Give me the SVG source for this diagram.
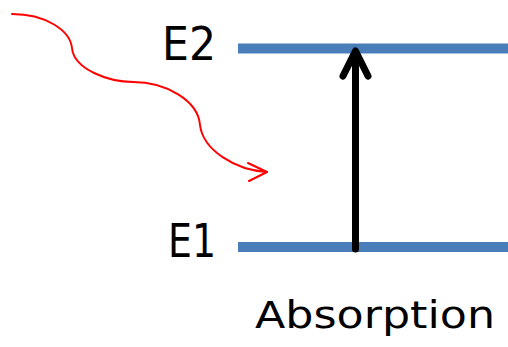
<svg xmlns="http://www.w3.org/2000/svg" width="508" height="347" viewBox="0 0 508 347">
<style>
.lbl{font-family:"DejaVu Sans","Liberation Sans",sans-serif;fill:#000}
.level{stroke:#4A7EBB;stroke-width:10;fill:none}
</style>
<rect width="508" height="347" fill="#fff"/>
<g id="E2">
<line class="level" x1="238" y1="48.5" x2="508" y2="48.5"/>
<text class="lbl" x="162" y="60" font-size="47" textLength="54" lengthAdjust="spacingAndGlyphs">E2</text>
</g>
<g id="E1">
<line class="level" x1="238" y1="247" x2="508" y2="247"/>
<text class="lbl" x="168" y="257" font-size="47" textLength="48" lengthAdjust="spacingAndGlyphs">E1</text>
</g>
<g id="label">
<text class="lbl" x="255" y="328" font-size="37" textLength="240" lengthAdjust="spacingAndGlyphs">Absorption</text>
</g>
<g id="connectors">
<g id="photon" fill="none" stroke="#FF0000" stroke-width="2" stroke-linecap="round" stroke-linejoin="round">
<path d="M12,14 C45,14 70,30 72,48 C74,70 110,82 133,82 C165,82 198,100 200,125 C203,150 235,170 267,172"/>
<polyline points="248,163 267,172 249,181"/>
</g>
<g id="transition" fill="none" stroke="#000" stroke-width="7" stroke-linecap="round" stroke-linejoin="round">
<line x1="355.5" y1="249" x2="355.5" y2="53"/>
<polyline points="343,76 355.5,51 368,76"/>
</g>
</g>
</svg>
